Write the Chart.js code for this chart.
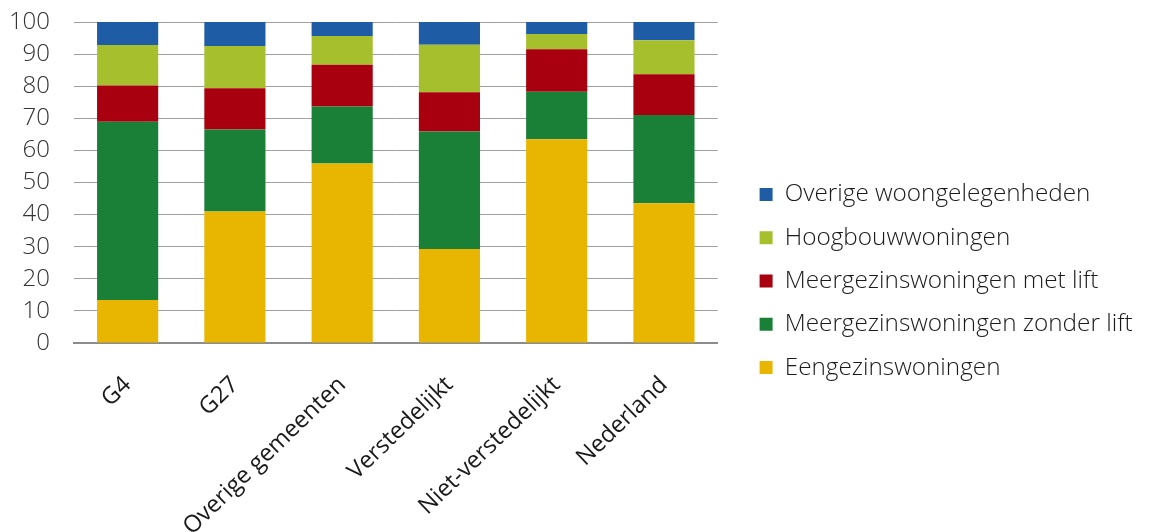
<!DOCTYPE html>
<html>
<head>
<meta charset="utf-8">
<script src="https://cdn.jsdelivr.net/npm/chart.js@4/dist/chart.umd.min.js"></script>
<style>
  html, body { margin: 0; padding: 0; background: #fff; }
  #wrap { width: 1149px; height: 532px; }
</style>
</head>
<body>
<div id="wrap"><canvas id="chart"></canvas></div>
<script>
// categories and stacked shares (%)
const categories = ["G4", "G27", "Overige gemeenten", "Verstedelijkt", "Niet-verstedelijkt", "Nederland"];
const eengezins = [13.4, 41.0, 55.9, 29.3, 63.5, 43.5];
const zonderLift = [55.5, 25.5, 17.8, 36.6, 14.8, 27.5];
const metLift = [11.3, 12.9, 13.0, 12.2, 13.2, 12.7];
const hoogbouw = [12.6, 13.1, 8.9, 14.8, 4.8, 10.6];
const overige = [7.2, 7.5, 4.4, 7.1, 3.7, 5.7];
const yTicks = [0, 10, 20, 30, 40, 50, 60, 70, 80, 90, 100];

// series, bottom to top
const series = [
    { label: "Eengezinswoningen", data: eengezins, color: "#e8b600" },
    { label: "Meergezinswoningen zonder lift", data: zonderLift, color: "#1a8038" },
    { label: "Meergezinswoningen met lift", data: metLift, color: "#a8000f" },
    { label: "Hoogbouwwoningen", data: hoogbouw, color: "#a6c02d" },
    { label: "Overige woongelegenheden", data: overige, color: "#1f5ca6" }
];

const ctx = document.getElementById("chart").getContext("2d");
const chart = new Chart(ctx, {
    type: "bar",
    data: {
        labels: categories,
        datasets: series.map(s => ({
            label: s.label,
            data: s.data,
            backgroundColor: s.color,
            borderWidth: 0,
            categoryPercentage: 1,
            barPercentage: 0.57,
            yAxisID: "y"
        }))
    },
    options: {
        responsive: true,
        maintainAspectRatio: false,
        animation: false,
        layout: { padding: { top: 22, left: 10, right: 6.4, bottom: -8 } },
        scales: {
            x: {
                stacked: true,
                grid: { display: false },
                border: { color: "#8c8c8c", width: 2 },
                afterFit: axis => { axis.height = 197; axis.paddingLeft = 0; axis.paddingRight = 0; },
                ticks: {
                    color: "#1a1a1a",
                    font: { family: "Open Sans", size: 23.5 },
                    minRotation: 44,
                    maxRotation: 44,
                    padding: 20
                }
            },
            y: {
                stacked: true,
                min: 0,
                max: 100,
                afterBuildTicks: axis => { axis.ticks = yTicks.map(v => ({ value: v })); },
                afterFit: axis => { axis.width = 64; axis.paddingTop = 0; axis.paddingBottom = 0; },
                grid: { color: "#a0a0a0", drawTicks: false },
                border: { display: false },
                ticks: {
                    autoSkip: false,
                    color: "#333",
                    font: { family: "Open Sans", size: 24, weight: 300 },
                    padding: 24
                }
            },
            // empty spacer between plot and legend
            gap: {
                type: "linear",
                position: "right",
                grid: { display: false },
                border: { display: false },
                ticks: { display: false },
                afterFit: axis => { axis.width = 23; }
            }
        },
        plugins: {
            tooltip: { enabled: false },
            legend: {
                position: "right",
                reverse: true,
                maxWidth: 500,
                labels: {
                    boxWidth: 13,
                    boxHeight: 13,
                    padding: 19,
                    color: "#1a1a1a",
                    font: { family: "Open Sans", size: 24.3, weight: 300 }
                }
            }
        }
    }
});
</script>
</body>
</html>
